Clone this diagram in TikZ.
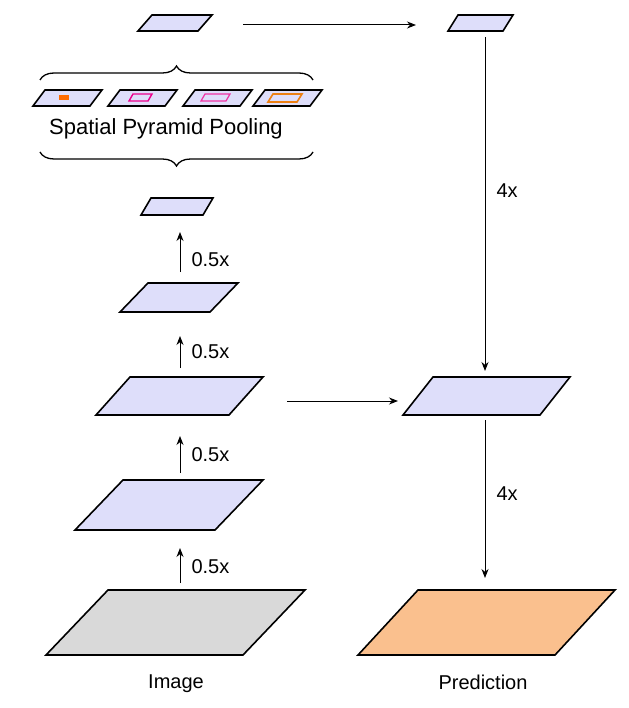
\documentclass[tikz,border=0pt]{standalone}
\usepackage{fontspec}
\setmainfont{Liberation Sans}
\usetikzlibrary{decorations.pathreplacing,arrows.meta}
\definecolor{lay}{RGB}{222,222,250}
\definecolor{img}{RGB}{217,217,217}
\definecolor{pred}{RGB}{250,192,142}
\tikzset{
  plane/.style={draw=black,line width=1.6pt,line join=miter},
  arr/.style={-{Stealth[length=9pt,width=7pt]},line width=1pt},
  lbl/.style={font=\fontsize{20}{22}\selectfont,anchor=west},
}
% #1 top y, #2 bottom y, #3 top-left x, #4 top-right x, #5 skew, #6 fill
\newcommand{\plane}[6]{\path[plane,fill=#6] (#3,#1) -- (#4,#1) -- ({#4-#5},#2) -- ({#3-#5},#2) -- cycle;}
\begin{document}
\begin{tikzpicture}[x=1pt,y=-1pt]
\useasboundingbox (0,0) rectangle (628,708);
% left column
\plane{590}{655}{108}{305}{62}{img}
\plane{480}{530}{123}{263}{48}{lay}
\plane{377}{415}{130}{263}{34}{lay}
\plane{283}{312}{148}{238}{28}{lay}
\plane{198}{215}{151}{213}{10}{lay}
\plane{15}{31}{152}{212}{14}{lay}
% spp
\foreach \x/\c in {0/a,75/b,150/c,220/d}{\plane{90}{106}{\x+45}{\x+102}{12}{lay}}
\fill[orange!85!red] (59,95) rectangle (69,100);
\draw[magenta,line width=1.4pt] (133,94) -- (152,94) -- (148,101) -- (129,101) -- cycle;
\draw[magenta!80,line width=1.2pt] (205,94) -- (230,94) -- (226,101) -- (201,101) -- cycle;
\draw[orange!70!brown,line width=1.6pt] (273,94) -- (302,94) -- (297,102) -- (268,102) -- cycle;
\node[font=\fontsize{22}{24}\selectfont] (spp) at (166,129) {Spatial Pyramid Pooling};
\draw[decorate,decoration={brace,amplitude=14pt},line width=1.3pt] (40,80) -- (313,80);
\draw[decorate,decoration={brace,amplitude=14pt,mirror},line width=1.3pt] (40,152) -- (313,152);
% right column
\plane{15}{31}{458}{513}{10}{lay}
\plane{377}{415}{433}{570}{30}{lay}
\plane{590}{655}{418}{615}{60}{pred}
% labels
\node[font=\fontsize{20}{22}\selectfont] (im) at (176,684) {Image};
\node[font=\fontsize{20}{22}\selectfont] (pr) at (483,682) {Prediction};
% arrows
\coordinate (a1) at (180,583); \coordinate (b1) at (180,548);
\coordinate (a2) at (180,473); \coordinate (b2) at (180,436);
\coordinate (a3) at (180,368); \coordinate (b3) at (180,336);
\coordinate (a4) at (180,272); \coordinate (b4) at (180,232);
\foreach \i/\y in {1/567,2/455,3/352,4/260}{
  \draw[arr] (a\i) -- (b\i);
  \node[lbl] at (188,\y) {0.5x};
}
\coordinate (t1) at (243,25); \coordinate (t2) at (416,25);
\draw[arr] (t1) -- (t2);
\coordinate (m1) at (287,401); \coordinate (m2) at (398,401);
\draw[arr] (m1) -- (m2);
\coordinate (r1) at (485,37); \coordinate (r2) at (485,371);
\draw[arr] (r1) -- (r2);
\coordinate (r3) at (485,420); \coordinate (r4) at (485,578);
\draw[arr] (r3) -- (r4);
\node[lbl] at (493,191) {4x};
\node[lbl] at (493,494) {4x};
\end{tikzpicture}
\end{document}
